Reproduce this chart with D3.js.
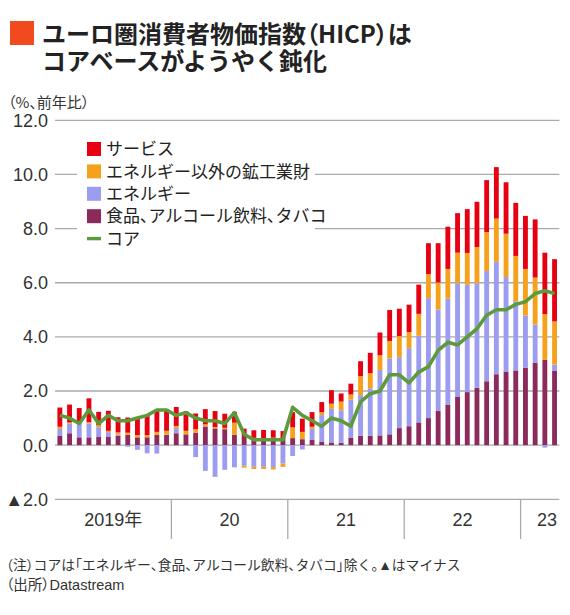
<!DOCTYPE html>
<html><head><meta charset="utf-8">
<script src="https://cdn.jsdelivr.net/npm/d3@7"></script>
<style>
html,body{margin:0;padding:0;background:#fff;}
tspan.p{font-feature-settings:"palt";}
</style>
</head><body>
<script>
// ---- data (contributions to euro-area HICP, % points; core in % y/y) ----
const months = [
"2019-01","2019-02","2019-03","2019-04","2019-05","2019-06","2019-07","2019-08","2019-09","2019-10","2019-11","2019-12",
"2020-01","2020-02","2020-03","2020-04","2020-05","2020-06","2020-07","2020-08","2020-09","2020-10","2020-11","2020-12",
"2021-01","2021-02","2021-03","2021-04","2021-05","2021-06","2021-07","2021-08","2021-09","2021-10","2021-11","2021-12",
"2022-01","2022-02","2022-03","2022-04","2022-05","2022-06","2022-07","2022-08","2022-09","2022-10","2022-11","2022-12",
"2023-01","2023-02","2023-03","2023-04"];

const food = [
0.34,0.44,0.29,0.29,0.30,0.30,0.34,0.38,0.29,0.29,0.38,0.38,
0.44,0.40,0.46,0.69,0.62,0.59,0.38,0.30,0.27,0.26,0.28,0.22,
0.26,0.22,0.19,0.12,0.10,0.09,0.28,0.35,0.35,0.36,0.40,0.63,
0.70,0.84,1.00,1.26,1.50,1.78,1.96,2.12,2.36,2.62,2.72,2.76,
2.86,3.05,3.15,2.74];

const energy = [
0.26,0.35,0.51,0.51,0.36,0.18,0.05,-0.06,-0.17,-0.30,-0.31,0.02,
0.19,-0.03,-0.44,-0.95,-1.17,-0.91,-0.82,-0.76,-0.80,-0.80,-0.81,-0.68,
-0.40,-0.16,0.41,0.99,1.24,1.20,1.40,1.50,1.75,2.42,2.80,2.62,
2.88,3.20,4.43,3.75,3.91,4.20,3.96,3.86,4.07,4.15,3.49,2.55,
1.93,1.40,-0.09,0.24];

const neig = [
0.08,0.05,0.05,0.05,0.08,0.05,0.08,0.08,0.08,0.08,0.11,0.13,
0.08,0.13,0.13,0.08,0.05,0.05,0.45,-0.07,-0.08,-0.08,-0.09,-0.12,
0.40,0.27,0.08,0.11,0.19,0.32,0.19,0.70,0.56,0.54,0.65,0.78,
0.60,0.81,0.89,1.00,1.10,1.13,1.18,1.34,1.44,1.60,1.60,1.68,
1.72,1.74,1.69,1.59];

const services = [
0.71,0.66,0.52,0.88,0.49,0.74,0.56,0.56,0.63,0.71,0.82,0.80,
0.70,0.72,0.58,0.56,0.59,0.52,0.40,0.31,0.28,0.30,0.27,0.30,
0.56,0.49,0.54,0.37,0.50,0.30,0.40,0.55,0.75,0.84,1.14,1.01,
1.01,1.08,1.14,1.45,1.56,1.46,1.62,1.67,1.92,1.90,1.90,1.96,
1.96,2.15,2.27,2.30];

const core = [
1.1,1.0,0.8,1.3,0.8,1.1,0.9,0.9,1.0,1.1,1.3,1.3,
1.1,1.2,1.0,0.9,0.9,0.8,1.2,0.4,0.2,0.2,0.2,0.2,
1.4,1.1,0.9,0.7,1.0,0.9,0.7,1.6,1.9,2.0,2.6,2.6,
2.3,2.7,2.9,3.5,3.8,3.7,4.0,4.3,4.8,5.0,5.0,5.2,
5.3,5.6,5.7,5.6];

const yTicks = [-2,0,2,4,6,8,10,12];
const yTickLabels = ["▲2.0","0.0","2.0","4.0","6.0","8.0","10.0","12.0"];
const yearLabels = ["2019年","20","21","22","23"];
const yearStarts = ["2019-01","2020-01","2021-01","2022-01","2023-01"];

const seriesKeys = ["food","energy","neig","services"];
const seriesNames = {services:"サービス", neig:"エネルギー以外の鉱工業財", energy:"エネルギー", food:"食品、アルコール飲料、タバコ", core:"コア"};
const colors = {services:"#e60012", neig:"#f6a11c", energy:"#9c9cf0", food:"#8c2a5c", core:"#5c9a3b"};

// ---- chart ----
const W = 570, H = 615;
const svg = d3.select("body").append("svg").attr("width",W).attr("height",H);
const numFont = "'Liberation Sans', Arial, 'Noto Sans CJK JP', sans-serif";
const jpFont = "'Noto Sans CJK JP', 'Liberation Sans', sans-serif";

// write text with proportional (half-width) punctuation only
const PUNCT = /[（）「」、。]/;
function richText(sel, str) {
  let runs = [];
  for (const ch of str) {
    const p = PUNCT.test(ch);
    if (runs.length && runs[runs.length-1].p === p) runs[runs.length-1].t += ch;
    else runs.push({p, t: ch});
  }
  runs.forEach(r => sel.append("tspan").attr("class", r.p ? "p" : null).text(r.t));
}

const x = d3.scaleBand().domain(months).range([55, 559.4]).paddingInner(0.5).paddingOuter(0.25);
const y = d3.scaleLinear().domain([-2, 12]).range([499.3, 120.3]);

// title
svg.append("rect").attr("x",10).attr("y",21).attr("width",24).attr("height",24).attr("fill","#f04a1e");
const t1 = svg.append("text").attr("x",42).attr("y",43).attr("font-family",jpFont).attr("font-weight",700).attr("font-size",24).attr("fill","#222");
richText(t1, "ユーロ圏消費者物価指数（HICP）は");
const t2 = svg.append("text").attr("x",42).attr("y",70).attr("font-family",jpFont).attr("font-weight",700).attr("font-size",24).attr("fill","#222");
richText(t2, "コアベースがようやく鈍化");

const unit = svg.append("text").attr("x",8).attr("y",108).attr("font-family",jpFont).attr("font-size",15).attr("fill","#333");
richText(unit, "（%、前年比）");

// gridlines
svg.append("g").selectAll("line").data(yTicks).join("line")
  .attr("x1",55).attr("x2",559.4).attr("y1",d=>y(d)).attr("y2",d=>y(d))
  .attr("stroke","#aaaaaa").attr("stroke-width",1.3);

// y labels
svg.append("g").selectAll("text").data(yTicks).join("text")
  .attr("x",48).attr("y",d=>y(d)).attr("dy","0.36em").attr("text-anchor","end")
  .attr("font-family",numFont).attr("font-size",18).attr("fill","#333")
  .text((d,i)=>yTickLabels[i]);

// legend background
svg.append("rect").attr("x",77).attr("y",136).attr("width",238).attr("height",112).attr("fill","#fff");

// bars
const table = months.map((m,i)=>({month:m, food:food[i], energy:energy[i], neig:neig[i], services:services[i]}));
const stack = d3.stack().keys(seriesKeys).offset(d3.stackOffsetDiverging);
const layers = stack(table);
svg.append("g").selectAll("g").data(layers).join("g")
  .attr("fill",d=>colors[d.key])
  .selectAll("rect").data(d=>d).join("rect")
  .attr("x",d=>x(d.data.month)).attr("width",x.bandwidth())
  .attr("y",d=>y(Math.max(d[0],d[1])))
  .attr("height",d=>Math.abs(y(d[0])-y(d[1])));

// core line
const line = d3.line().x((d,i)=>x(months[i])+x.bandwidth()/2).y(d=>y(d));
svg.append("path").datum(core).attr("d",line).attr("fill","none")
  .attr("stroke",colors.core).attr("stroke-width",3.6).attr("stroke-linejoin","round");

// legend
const legendItems = ["services","neig","energy","food","core"];
const lg = svg.append("g").selectAll("g").data(legendItems).join("g")
  .attr("transform",(d,i)=>`translate(87,${149 + i*22.4})`);
lg.filter(d=>d!=="core").append("rect").attr("x",0).attr("y",-7).attr("width",14).attr("height",14).attr("fill",d=>colors[d]);
lg.filter(d=>d==="core").append("rect").attr("x",0).attr("y",-1.7).attr("width",14).attr("height",3.4).attr("fill",colors.core);
lg.append("text").attr("x",19).attr("y",0).attr("dy","0.36em")
  .attr("font-family",jpFont).attr("font-size",17).attr("fill","#222")
  .each(function(d){ richText(d3.select(this), seriesNames[d]); });

// year axis
const step = x.step();
const boundary = m => x(m) + x.bandwidth()/2 - step/2;
const endX = x.range()[1];
const seps = yearStarts.slice(1).map(boundary);
svg.append("g").selectAll("line").data(seps).join("line")
  .attr("x1",d=>d).attr("x2",d=>d).attr("y1",y(-2)).attr("y2",539)
  .attr("stroke","#aaaaaa").attr("stroke-width",1.3);
svg.append("g").selectAll("text").data(yearLabels).join("text")
  .attr("x",(d,i)=>{const a=boundary(yearStarts[i]); const b = i<yearStarts.length-1 ? boundary(yearStarts[i+1]) : endX + 14; return (a+b)/2;})
  .attr("y",526).attr("text-anchor","middle")
  .attr("font-family",numFont).attr("font-size",18).attr("fill","#333")
  .text(d=>d);

// notes
const n1 = svg.append("text").attr("x",6).attr("y",570).attr("font-family",numFont).attr("font-size",13.8).attr("fill","#333");
richText(n1, "（注）コアは「エネルギー、食品、アルコール飲料、タバコ」除く。▲はマイナス");
const n2 = svg.append("text").attr("x",6).attr("y",590).attr("font-family",numFont).attr("font-size",14.5).attr("fill","#333");
richText(n2, "（出所）Datastream");
</script>
</body></html>
